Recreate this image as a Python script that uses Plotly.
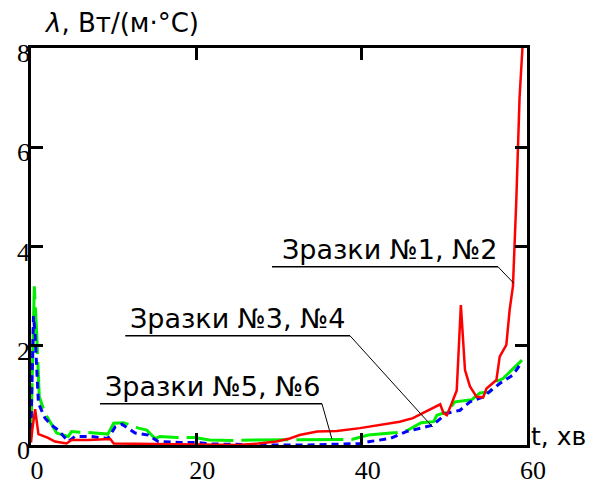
import plotly.graph_objects as go

# ---- data ----
t_red = [0, 0.15, 0.5, 0.9, 2.0, 2.9, 4.3, 4.9, 6.9, 9.6, 10.0, 15, 20, 25, 27.5,
         29.7, 31.3, 32.5, 34.6, 37, 39.8, 42.2, 43.4, 44.6, 46.2, 48.2, 49.5, 49.9,
         50.3, 50.9, 51.5, 52.0, 52.5, 53.1, 53.9, 54.7, 55.1, 56.3, 56.7, 57.5,
         57.9, 58.3, 58.7, 59.1, 59.45]
lam_red = [0.05, 0.3, 0.72, 0.22, 0.15, 0.07, 0.03, 0.1, 0.1, 0.12, 0.03, 0.02, 0.01,
           0.0, 0.03, 0.07, 0.13, 0.2, 0.27, 0.28, 0.34, 0.4, 0.44, 0.47, 0.54, 0.7,
           0.82, 0.64, 0.6, 0.84, 1.1, 2.82, 1.51, 1.18, 0.97, 0.96, 1.14, 1.31, 1.78,
           2.02, 2.72, 3.2, 4.9, 7.0, 8.0]

t_blue = [0, 0.3, 0.5, 0.9, 1.7, 2.5, 3.3, 4.5, 5.3, 7.3, 9.3, 10.2, 11, 12.6, 14.2,
          15.4, 18, 20, 22, 25, 30, 33.7, 37, 39.8, 41, 42.6, 43.4, 45.4, 48.6, 50.3,
          51.9, 53.1, 54.7, 56.7, 58.3, 59.3]
lam_blue = [0.3, 2.6, 2.2, 0.84, 0.54, 0.4, 0.3, 0.07, 0.17, 0.17, 0.13, 0.37, 0.42,
            0.24, 0.2, 0.07, 0.05, 0.05, 0.02, 0.01, 0.0, 0.0, 0.02, 0.03, 0.07, 0.1,
            0.13, 0.27, 0.4, 0.64, 0.7, 0.87, 0.97, 1.24, 1.41, 1.65]

t_green = [0, 0.4, 0.7, 1.0, 1.7, 2.3, 3.1, 4.5, 4.9, 6.9, 9.3, 10, 11.2, 13, 14, 15,
           15.6, 17.6, 19.8, 21.6, 24.5, 26.9, 32.5, 33.7, 38.8, 40.8, 44.2, 45.6,
           47.2, 48.7, 49.1, 50.3, 51.3, 53.3, 54.3, 55.5, 56.3, 57.1, 59.1, 59.4]
lam_green = [0.3, 3.2, 2.2, 0.97, 0.64, 0.47, 0.24, 0.17, 0.27, 0.25, 0.22, 0.44, 0.45,
             0.34, 0.3, 0.13, 0.17, 0.15, 0.15, 0.1, 0.09, 0.1, 0.1, 0.1, 0.11, 0.2,
             0.25, 0.3, 0.45, 0.47, 0.6, 0.67, 0.87, 0.91, 1.05, 1.07, 1.28, 1.34,
             1.65, 1.71]

x_ticks = [0, 20, 40, 60]
y_ticks = [0, 2, 4, 6, 8]

labels = ["Зразки №1, №2", "Зразки №3, №4", "Зразки №5, №6"]
# label underline: (t_start, t_end, lambda) and leader end (t, lambda)
label_lines = [(29.15, 56.5, 3.59, 58.4, 3.26),
               (11.4, 38.6, 2.20, 48.6, 0.36),
               (8.35, 35.2, 0.83, 36.4, 0.12)]
label_text_x = [30.4, 12.0, 8.9]

fig = go.Figure()
fig.add_trace(go.Scatter(x=t_green, y=lam_green, mode="lines",
                         line=dict(color="#00ee00", width=3, dash="47px,8px")))
fig.add_trace(go.Scatter(x=t_blue, y=lam_blue, mode="lines",
                         line=dict(color="#0000ff", width=3, dash="7px,5px")))
fig.add_trace(go.Scatter(x=t_red, y=lam_red, mode="lines",
                         line=dict(color="#ff0000", width=2.5)))

shapes = []
annotations = []
for txt, (x0, x1, yl, xe, ye), xt in zip(labels, label_lines, label_text_x):
    shapes.append(dict(type="line", xref="x", yref="y", x0=x0, x1=x1, y0=yl, y1=yl,
                       line=dict(color="black", width=1.5)))
    shapes.append(dict(type="line", xref="x", yref="y", x0=x1, x1=xe, y0=yl, y1=ye,
                       line=dict(color="black", width=1)))
    annotations.append(dict(x=xt, y=yl, xref="x", yref="y", text=txt, showarrow=False,
                            xanchor="left", yanchor="bottom", yshift=0, xshift=-2,
                            font=dict(family="DejaVu Sans", size=27, color="black")))

annotations.append(dict(x=0.028, y=1.02, xref="paper", yref="paper",
                        text="<i>λ</i>, Вт/(м·°C)", showarrow=False,
                        xanchor="left", yanchor="bottom", xshift=-3,
                        font=dict(family="DejaVu Sans", size=26, color="black")))
annotations.append(dict(x=1.012, y=0.0, xref="paper", yref="paper",
                        text="t, хв", showarrow=False,
                        xanchor="left", yanchor="bottom", xshift=-4, yshift=-8,
                        font=dict(family="DejaVu Sans", size=25, color="black")))

axis_common = dict(showline=True, linecolor="black", linewidth=2.5, mirror="ticks",
                   ticks="inside", ticklen=12, tickwidth=2.5, tickcolor="black",
                   showgrid=False, zeroline=False, automargin=False,
                   tickfont=dict(family="Liberation Serif", size=26, color="black"))

# The page body keeps its default 8px margin, so the figure is sized to fit the window.
fig.update_layout(
    width=589, height=475,
    margin=dict(l=23, r=70, t=40, b=38),
    paper_bgcolor="white", plot_bgcolor="white",
    showlegend=False,
    xaxis=dict(range=[0, 60], tickvals=x_ticks, ticklabelshift=6,
               ticklabelstandoff=0, **axis_common),
    yaxis=dict(range=[0, 8], tickvals=y_ticks, ticklabelshift=5,
               ticklabelstandoff=-7, **axis_common),
    shapes=shapes, annotations=annotations,
)

fig.write_html("out.html")
